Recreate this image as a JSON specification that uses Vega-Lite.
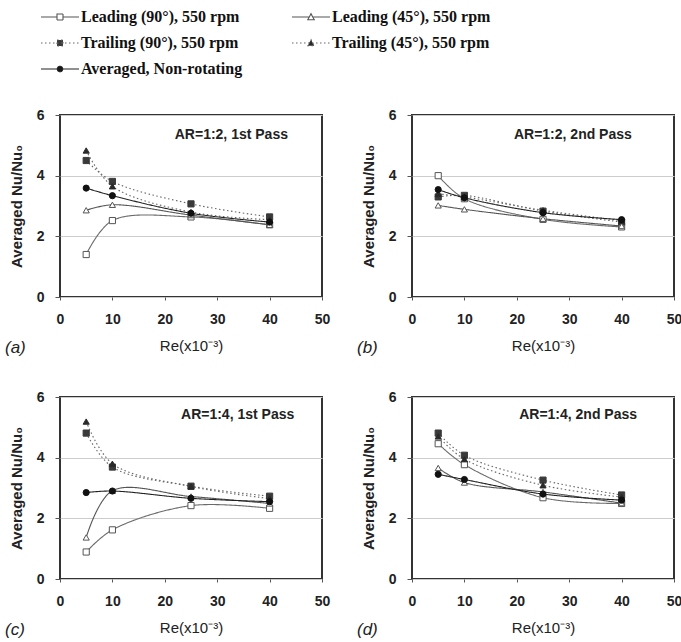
{
  "$schema": "https://vega.github.io/schema/vega-lite/v6.json",
  "padding": {"left": 4, "top": 5, "right": 2, "bottom": 2},
  "background": "white",
  "datasets": {
    "nu": [
      {"panel": "a", "series": "Leading (90°), 550 rpm", "re": 5, "nu": 1.40},
      {"panel": "a", "series": "Leading (90°), 550 rpm", "re": 10, "nu": 2.52},
      {"panel": "a", "series": "Leading (90°), 550 rpm", "re": 25, "nu": 2.64},
      {"panel": "a", "series": "Leading (90°), 550 rpm", "re": 40, "nu": 2.38},
      {"panel": "a", "series": "Trailing (90°), 550 rpm", "re": 5, "nu": 4.50},
      {"panel": "a", "series": "Trailing (90°), 550 rpm", "re": 10, "nu": 3.81},
      {"panel": "a", "series": "Trailing (90°), 550 rpm", "re": 25, "nu": 3.07},
      {"panel": "a", "series": "Trailing (90°), 550 rpm", "re": 40, "nu": 2.64},
      {"panel": "a", "series": "Leading (45°), 550 rpm", "re": 5, "nu": 2.86},
      {"panel": "a", "series": "Leading (45°), 550 rpm", "re": 10, "nu": 3.04},
      {"panel": "a", "series": "Leading (45°), 550 rpm", "re": 25, "nu": 2.70},
      {"panel": "a", "series": "Leading (45°), 550 rpm", "re": 40, "nu": 2.38},
      {"panel": "a", "series": "Trailing (45°), 550 rpm", "re": 5, "nu": 4.83},
      {"panel": "a", "series": "Trailing (45°), 550 rpm", "re": 10, "nu": 3.65},
      {"panel": "a", "series": "Trailing (45°), 550 rpm", "re": 25, "nu": 2.80},
      {"panel": "a", "series": "Trailing (45°), 550 rpm", "re": 40, "nu": 2.55},
      {"panel": "a", "series": "Averaged, Non-rotating", "re": 5, "nu": 3.59},
      {"panel": "a", "series": "Averaged, Non-rotating", "re": 10, "nu": 3.34},
      {"panel": "a", "series": "Averaged, Non-rotating", "re": 25, "nu": 2.76},
      {"panel": "a", "series": "Averaged, Non-rotating", "re": 40, "nu": 2.47},

      {"panel": "b", "series": "Leading (90°), 550 rpm", "re": 5, "nu": 4.00},
      {"panel": "b", "series": "Leading (90°), 550 rpm", "re": 10, "nu": 3.24},
      {"panel": "b", "series": "Leading (90°), 550 rpm", "re": 25, "nu": 2.56},
      {"panel": "b", "series": "Leading (90°), 550 rpm", "re": 40, "nu": 2.31},
      {"panel": "b", "series": "Trailing (90°), 550 rpm", "re": 5, "nu": 3.30},
      {"panel": "b", "series": "Trailing (90°), 550 rpm", "re": 10, "nu": 3.35},
      {"panel": "b", "series": "Trailing (90°), 550 rpm", "re": 25, "nu": 2.83},
      {"panel": "b", "series": "Trailing (90°), 550 rpm", "re": 40, "nu": 2.47},
      {"panel": "b", "series": "Leading (45°), 550 rpm", "re": 5, "nu": 3.02},
      {"panel": "b", "series": "Leading (45°), 550 rpm", "re": 10, "nu": 2.89},
      {"panel": "b", "series": "Leading (45°), 550 rpm", "re": 25, "nu": 2.58},
      {"panel": "b", "series": "Leading (45°), 550 rpm", "re": 40, "nu": 2.34},
      {"panel": "b", "series": "Trailing (45°), 550 rpm", "re": 5, "nu": 3.40},
      {"panel": "b", "series": "Trailing (45°), 550 rpm", "re": 10, "nu": 3.30},
      {"panel": "b", "series": "Trailing (45°), 550 rpm", "re": 25, "nu": 2.86},
      {"panel": "b", "series": "Trailing (45°), 550 rpm", "re": 40, "nu": 2.52},
      {"panel": "b", "series": "Averaged, Non-rotating", "re": 5, "nu": 3.54},
      {"panel": "b", "series": "Averaged, Non-rotating", "re": 10, "nu": 3.27},
      {"panel": "b", "series": "Averaged, Non-rotating", "re": 25, "nu": 2.78},
      {"panel": "b", "series": "Averaged, Non-rotating", "re": 40, "nu": 2.55},

      {"panel": "c", "series": "Leading (90°), 550 rpm", "re": 5, "nu": 0.89},
      {"panel": "c", "series": "Leading (90°), 550 rpm", "re": 10, "nu": 1.62},
      {"panel": "c", "series": "Leading (90°), 550 rpm", "re": 25, "nu": 2.42},
      {"panel": "c", "series": "Leading (90°), 550 rpm", "re": 40, "nu": 2.33},
      {"panel": "c", "series": "Trailing (90°), 550 rpm", "re": 5, "nu": 4.81},
      {"panel": "c", "series": "Trailing (90°), 550 rpm", "re": 10, "nu": 3.69},
      {"panel": "c", "series": "Trailing (90°), 550 rpm", "re": 25, "nu": 3.06},
      {"panel": "c", "series": "Trailing (90°), 550 rpm", "re": 40, "nu": 2.73},
      {"panel": "c", "series": "Leading (45°), 550 rpm", "re": 5, "nu": 1.37},
      {"panel": "c", "series": "Leading (45°), 550 rpm", "re": 10, "nu": 2.91},
      {"panel": "c", "series": "Leading (45°), 550 rpm", "re": 25, "nu": 2.72},
      {"panel": "c", "series": "Leading (45°), 550 rpm", "re": 40, "nu": 2.49},
      {"panel": "c", "series": "Trailing (45°), 550 rpm", "re": 5, "nu": 5.19},
      {"panel": "c", "series": "Trailing (45°), 550 rpm", "re": 10, "nu": 3.80},
      {"panel": "c", "series": "Trailing (45°), 550 rpm", "re": 25, "nu": 3.05},
      {"panel": "c", "series": "Trailing (45°), 550 rpm", "re": 40, "nu": 2.65},
      {"panel": "c", "series": "Averaged, Non-rotating", "re": 5, "nu": 2.85},
      {"panel": "c", "series": "Averaged, Non-rotating", "re": 10, "nu": 2.90},
      {"panel": "c", "series": "Averaged, Non-rotating", "re": 25, "nu": 2.66},
      {"panel": "c", "series": "Averaged, Non-rotating", "re": 40, "nu": 2.55},

      {"panel": "d", "series": "Leading (90°), 550 rpm", "re": 5, "nu": 4.46},
      {"panel": "d", "series": "Leading (90°), 550 rpm", "re": 10, "nu": 3.77},
      {"panel": "d", "series": "Leading (90°), 550 rpm", "re": 25, "nu": 2.68},
      {"panel": "d", "series": "Leading (90°), 550 rpm", "re": 40, "nu": 2.49},
      {"panel": "d", "series": "Trailing (90°), 550 rpm", "re": 5, "nu": 4.81},
      {"panel": "d", "series": "Trailing (90°), 550 rpm", "re": 10, "nu": 4.08},
      {"panel": "d", "series": "Trailing (90°), 550 rpm", "re": 25, "nu": 3.26},
      {"panel": "d", "series": "Trailing (90°), 550 rpm", "re": 40, "nu": 2.77},
      {"panel": "d", "series": "Leading (45°), 550 rpm", "re": 5, "nu": 3.66},
      {"panel": "d", "series": "Leading (45°), 550 rpm", "re": 10, "nu": 3.18},
      {"panel": "d", "series": "Leading (45°), 550 rpm", "re": 25, "nu": 2.87},
      {"panel": "d", "series": "Leading (45°), 550 rpm", "re": 40, "nu": 2.50},
      {"panel": "d", "series": "Trailing (45°), 550 rpm", "re": 5, "nu": 4.70},
      {"panel": "d", "series": "Trailing (45°), 550 rpm", "re": 10, "nu": 3.95},
      {"panel": "d", "series": "Trailing (45°), 550 rpm", "re": 25, "nu": 3.09},
      {"panel": "d", "series": "Trailing (45°), 550 rpm", "re": 40, "nu": 2.70},
      {"panel": "d", "series": "Averaged, Non-rotating", "re": 5, "nu": 3.45},
      {"panel": "d", "series": "Averaged, Non-rotating", "re": 10, "nu": 3.28},
      {"panel": "d", "series": "Averaged, Non-rotating", "re": 25, "nu": 2.80},
      {"panel": "d", "series": "Averaged, Non-rotating", "re": 40, "nu": 2.60}
    ],
    "notes": [
      {"panel": "a", "note": "AR=1:2, 1st Pass"},
      {"panel": "b", "note": "AR=1:2, 2nd Pass"},
      {"panel": "c", "note": "AR=1:4, 1st Pass"},
      {"panel": "d", "note": "AR=1:4, 2nd Pass"}
    ]
  },
  "config": {
    "font": "Liberation Sans",
    "view": {"stroke": "#333", "strokeWidth": 2},
    "axis": {
      "labelFont": "Liberation Sans", "labelFontWeight": "bold", "labelFontSize": 14, "labelColor": "#222",
      "titleFont": "Liberation Sans", "titleFontWeight": "bold", "titleFontSize": 15, "titleColor": "#222",
      "domain": false, "tickColor": "#555", "gridColor": "#cccccc", "gridWidth": 1
    },
    "axisX": {"grid": false, "tickSize": 3, "labelPadding": 12, "titlePadding": 12, "titleFontWeight": "normal", "labelFlush": false},
    "axisY": {"grid": true, "tickSize": 5, "labelPadding": 11, "titlePadding": 12, "labelFlush": false},
    "title": {"font": "Liberation Sans", "fontStyle": "italic", "fontWeight": "normal", "fontSize": 17, "color": "#222", "orient": "bottom", "anchor": "start", "frame": "group", "offset": -13, "dx": -55}
  },
  "resolve": {
    "scale": {"shape": "independent", "fill": "independent", "stroke": "independent", "strokeDash": "independent", "color": "independent"},
    "legend": {"shape": "independent", "fill": "independent", "stroke": "independent", "strokeDash": "independent", "color": "independent"}
  },
  "spacing": 30,
  "vconcat": [
    {
      "width": 640, "height": 72,
      "view": {"stroke": null},
      "data": {"name": "nu"},
      "transform": [{"filter": "datum.re < 0"}],
      "mark": {"type": "point", "filled": true, "size": 100, "strokeWidth": 1.2, "opacity": 1},
      "encoding": {
        "shape": {"field": "series", "type": "nominal",
          "scale": {"domain": ["Leading (90°), 550 rpm", "Trailing (90°), 550 rpm", "Averaged, Non-rotating", "Leading (45°), 550 rpm", "Trailing (45°), 550 rpm"],
            "range": [
              "M-1,0H2.2M3.4,0H6.6M2.2,-0.6H3.4V0.6H2.2Z",
              "M-1,0H6.6M2.2,-0.6H3.4V0.6H2.2Z",
              "M-1,0H6.6M3.35,0A0.55,0.55 0 1,1 2.25,0A0.55,0.55 0 1,1 3.35,0Z",
              "M-1,0H2.45M3.15,0H6.6M2.8,-0.65L3.45,0.55H2.15Z",
              "M-1,0H6.6M2.8,-0.65L3.45,0.55H2.15Z"
            ]},
          "legend": {
            "title": null, "orient": "none", "legendX": -22, "legendY": 4, "columns": 2, "columnPadding": 46, "rowPadding": 10,
            "symbolSize": 100, "symbolStrokeWidth": 1.1, "labelOffset": 27, "labelLimit": 400,
            "labelFont": "Liberation Serif", "labelFontWeight": "bold", "labelFontSize": 16, "labelColor": "#111", "padding": 0
          }},
        "fill": {"field": "series", "type": "nominal",
          "scale": {"domain": ["Leading (90°), 550 rpm", "Trailing (90°), 550 rpm", "Averaged, Non-rotating", "Leading (45°), 550 rpm", "Trailing (45°), 550 rpm"],
            "range": ["#ffffff", "#3a3a3a", "#111111", "#ffffff", "#2a2a2a"]}},
        "stroke": {"field": "series", "type": "nominal",
          "scale": {"domain": ["Leading (90°), 550 rpm", "Trailing (90°), 550 rpm", "Averaged, Non-rotating", "Leading (45°), 550 rpm", "Trailing (45°), 550 rpm"],
            "range": ["#555555", "#666666", "#222222", "#555555", "#666666"]}},
        "strokeDash": {"field": "series", "type": "nominal",
          "scale": {"domain": ["Leading (90°), 550 rpm", "Trailing (90°), 550 rpm", "Averaged, Non-rotating", "Leading (45°), 550 rpm", "Trailing (45°), 550 rpm"],
            "range": [[1, 0], [1.5, 2.5], [1, 0], [1, 0], [1.5, 2.5]]}}
      }
    },
    {
      "spacing": 32,
      "vconcat": [
        {
          "spacing": 25,
          "hconcat": [
            {
              "width": 262, "height": 182,
              "title": {"text": "(a)"},
              "layer": [
                {"data": {"name": "nu"}, "transform": [{"filter": "datum.panel === 'a'"}],
                  "mark": {"type": "line", "interpolate": "catmull-rom", "strokeWidth": 1.1},
                  "encoding": {
                    "x": {"field": "re", "type": "quantitative", "scale": {"domain": [0, 50]}, "axis": {"values": [0, 10, 20, 30, 40, 50]}, "title": "Re(x10⁻³)"},
                    "y": {"field": "nu", "type": "quantitative", "scale": {"domain": [0, 6]}, "axis": {"values": [0, 2, 4, 6]}, "title": "Averaged Nu/Nu₀"},
                    "detail": {"field": "series"},
                    "color": {"field": "series", "type": "nominal", "legend": null, "scale": {"domain": ["Leading (90°), 550 rpm", "Leading (45°), 550 rpm", "Trailing (90°), 550 rpm", "Trailing (45°), 550 rpm", "Averaged, Non-rotating"], "range": ["#6a6a6a", "#555555", "#666666", "#666666", "#222222"]}},
                    "strokeDash": {"field": "series", "type": "nominal", "legend": null, "scale": {"domain": ["Leading (90°), 550 rpm", "Leading (45°), 550 rpm", "Trailing (90°), 550 rpm", "Trailing (45°), 550 rpm", "Averaged, Non-rotating"], "range": [[1, 0], [1, 0], [1.5, 2.5], [1.5, 2.5], [1, 0]]}}
                  }},
                {"data": {"name": "nu"}, "transform": [{"filter": "datum.panel === 'a'"}],
                  "mark": {"type": "point", "filled": true, "size": 38, "strokeWidth": 1, "opacity": 1},
                  "encoding": {
                    "x": {"field": "re", "type": "quantitative"},
                    "y": {"field": "nu", "type": "quantitative"},
                    "shape": {"field": "series", "type": "nominal", "legend": null, "scale": {"domain": ["Leading (90°), 550 rpm", "Leading (45°), 550 rpm", "Trailing (90°), 550 rpm", "Trailing (45°), 550 rpm", "Averaged, Non-rotating"], "range": ["square", "triangle-up", "square", "triangle-up", "circle"]}},
                    "fill": {"field": "series", "type": "nominal", "legend": null, "scale": {"domain": ["Leading (90°), 550 rpm", "Leading (45°), 550 rpm", "Trailing (90°), 550 rpm", "Trailing (45°), 550 rpm", "Averaged, Non-rotating"], "range": ["#ffffff", "#ffffff", "#3a3a3a", "#2a2a2a", "#111111"]}},
                    "stroke": {"field": "series", "type": "nominal", "legend": null, "scale": {"domain": ["Leading (90°), 550 rpm", "Leading (45°), 550 rpm", "Trailing (90°), 550 rpm", "Trailing (45°), 550 rpm", "Averaged, Non-rotating"], "range": ["#555555", "#555555", "#3a3a3a", "#2a2a2a", "#111111"]}}
                  }},
                {"data": {"name": "notes"}, "transform": [{"filter": "datum.panel === 'a'"}],
                  "mark": {"type": "text", "align": "center", "baseline": "middle", "font": "Liberation Sans", "fontWeight": "bold", "fontSize": 14, "fill": "#222222"},
                  "encoding": {"x": {"datum": 32.7, "type": "quantitative"}, "y": {"datum": 5.35, "type": "quantitative"}, "text": {"field": "note", "type": "nominal"}}}
              ]
            },
            {
              "width": 262, "height": 182,
              "title": {"text": "(b)"},
              "layer": [
                {"data": {"name": "nu"}, "transform": [{"filter": "datum.panel === 'b'"}],
                  "mark": {"type": "line", "interpolate": "catmull-rom", "strokeWidth": 1.1},
                  "encoding": {
                    "x": {"field": "re", "type": "quantitative", "scale": {"domain": [0, 50]}, "axis": {"values": [0, 10, 20, 30, 40, 50]}, "title": "Re(x10⁻³)"},
                    "y": {"field": "nu", "type": "quantitative", "scale": {"domain": [0, 6]}, "axis": {"values": [0, 2, 4, 6]}, "title": "Averaged Nu/Nu₀"},
                    "detail": {"field": "series"},
                    "color": {"field": "series", "type": "nominal", "legend": null, "scale": {"domain": ["Leading (90°), 550 rpm", "Leading (45°), 550 rpm", "Trailing (90°), 550 rpm", "Trailing (45°), 550 rpm", "Averaged, Non-rotating"], "range": ["#6a6a6a", "#555555", "#666666", "#666666", "#222222"]}},
                    "strokeDash": {"field": "series", "type": "nominal", "legend": null, "scale": {"domain": ["Leading (90°), 550 rpm", "Leading (45°), 550 rpm", "Trailing (90°), 550 rpm", "Trailing (45°), 550 rpm", "Averaged, Non-rotating"], "range": [[1, 0], [1, 0], [1.5, 2.5], [1.5, 2.5], [1, 0]]}}
                  }},
                {"data": {"name": "nu"}, "transform": [{"filter": "datum.panel === 'b'"}],
                  "mark": {"type": "point", "filled": true, "size": 38, "strokeWidth": 1, "opacity": 1},
                  "encoding": {
                    "x": {"field": "re", "type": "quantitative"},
                    "y": {"field": "nu", "type": "quantitative"},
                    "shape": {"field": "series", "type": "nominal", "legend": null, "scale": {"domain": ["Leading (90°), 550 rpm", "Leading (45°), 550 rpm", "Trailing (90°), 550 rpm", "Trailing (45°), 550 rpm", "Averaged, Non-rotating"], "range": ["square", "triangle-up", "square", "triangle-up", "circle"]}},
                    "fill": {"field": "series", "type": "nominal", "legend": null, "scale": {"domain": ["Leading (90°), 550 rpm", "Leading (45°), 550 rpm", "Trailing (90°), 550 rpm", "Trailing (45°), 550 rpm", "Averaged, Non-rotating"], "range": ["#ffffff", "#ffffff", "#3a3a3a", "#2a2a2a", "#111111"]}},
                    "stroke": {"field": "series", "type": "nominal", "legend": null, "scale": {"domain": ["Leading (90°), 550 rpm", "Leading (45°), 550 rpm", "Trailing (90°), 550 rpm", "Trailing (45°), 550 rpm", "Averaged, Non-rotating"], "range": ["#555555", "#555555", "#3a3a3a", "#2a2a2a", "#111111"]}}
                  }},
                {"data": {"name": "notes"}, "transform": [{"filter": "datum.panel === 'b'"}],
                  "mark": {"type": "text", "align": "center", "baseline": "middle", "font": "Liberation Sans", "fontWeight": "bold", "fontSize": 14, "fill": "#222222"},
                  "encoding": {"x": {"datum": 30.7, "type": "quantitative"}, "y": {"datum": 5.35, "type": "quantitative"}, "text": {"field": "note", "type": "nominal"}}}
              ]
            }
          ]
        },
        {
          "spacing": 25,
          "hconcat": [
            {
              "width": 262, "height": 182,
              "title": {"text": "(c)"},
              "layer": [
                {"data": {"name": "nu"}, "transform": [{"filter": "datum.panel === 'c'"}],
                  "mark": {"type": "line", "interpolate": "catmull-rom", "strokeWidth": 1.1},
                  "encoding": {
                    "x": {"field": "re", "type": "quantitative", "scale": {"domain": [0, 50]}, "axis": {"values": [0, 10, 20, 30, 40, 50]}, "title": "Re(x10⁻³)"},
                    "y": {"field": "nu", "type": "quantitative", "scale": {"domain": [0, 6]}, "axis": {"values": [0, 2, 4, 6]}, "title": "Averaged Nu/Nu₀"},
                    "detail": {"field": "series"},
                    "color": {"field": "series", "type": "nominal", "legend": null, "scale": {"domain": ["Leading (90°), 550 rpm", "Leading (45°), 550 rpm", "Trailing (90°), 550 rpm", "Trailing (45°), 550 rpm", "Averaged, Non-rotating"], "range": ["#6a6a6a", "#555555", "#666666", "#666666", "#222222"]}},
                    "strokeDash": {"field": "series", "type": "nominal", "legend": null, "scale": {"domain": ["Leading (90°), 550 rpm", "Leading (45°), 550 rpm", "Trailing (90°), 550 rpm", "Trailing (45°), 550 rpm", "Averaged, Non-rotating"], "range": [[1, 0], [1, 0], [1.5, 2.5], [1.5, 2.5], [1, 0]]}}
                  }},
                {"data": {"name": "nu"}, "transform": [{"filter": "datum.panel === 'c'"}],
                  "mark": {"type": "point", "filled": true, "size": 38, "strokeWidth": 1, "opacity": 1},
                  "encoding": {
                    "x": {"field": "re", "type": "quantitative"},
                    "y": {"field": "nu", "type": "quantitative"},
                    "shape": {"field": "series", "type": "nominal", "legend": null, "scale": {"domain": ["Leading (90°), 550 rpm", "Leading (45°), 550 rpm", "Trailing (90°), 550 rpm", "Trailing (45°), 550 rpm", "Averaged, Non-rotating"], "range": ["square", "triangle-up", "square", "triangle-up", "circle"]}},
                    "fill": {"field": "series", "type": "nominal", "legend": null, "scale": {"domain": ["Leading (90°), 550 rpm", "Leading (45°), 550 rpm", "Trailing (90°), 550 rpm", "Trailing (45°), 550 rpm", "Averaged, Non-rotating"], "range": ["#ffffff", "#ffffff", "#3a3a3a", "#2a2a2a", "#111111"]}},
                    "stroke": {"field": "series", "type": "nominal", "legend": null, "scale": {"domain": ["Leading (90°), 550 rpm", "Leading (45°), 550 rpm", "Trailing (90°), 550 rpm", "Trailing (45°), 550 rpm", "Averaged, Non-rotating"], "range": ["#555555", "#555555", "#3a3a3a", "#2a2a2a", "#111111"]}}
                  }},
                {"data": {"name": "notes"}, "transform": [{"filter": "datum.panel === 'c'"}],
                  "mark": {"type": "text", "align": "center", "baseline": "middle", "font": "Liberation Sans", "fontWeight": "bold", "fontSize": 14, "fill": "#222222"},
                  "encoding": {"x": {"datum": 33.9, "type": "quantitative"}, "y": {"datum": 5.4, "type": "quantitative"}, "text": {"field": "note", "type": "nominal"}}}
              ]
            },
            {
              "width": 262, "height": 182,
              "title": {"text": "(d)"},
              "layer": [
                {"data": {"name": "nu"}, "transform": [{"filter": "datum.panel === 'd'"}],
                  "mark": {"type": "line", "interpolate": "catmull-rom", "strokeWidth": 1.1},
                  "encoding": {
                    "x": {"field": "re", "type": "quantitative", "scale": {"domain": [0, 50]}, "axis": {"values": [0, 10, 20, 30, 40, 50]}, "title": "Re(x10⁻³)"},
                    "y": {"field": "nu", "type": "quantitative", "scale": {"domain": [0, 6]}, "axis": {"values": [0, 2, 4, 6]}, "title": "Averaged Nu/Nu₀"},
                    "detail": {"field": "series"},
                    "color": {"field": "series", "type": "nominal", "legend": null, "scale": {"domain": ["Leading (90°), 550 rpm", "Leading (45°), 550 rpm", "Trailing (90°), 550 rpm", "Trailing (45°), 550 rpm", "Averaged, Non-rotating"], "range": ["#6a6a6a", "#555555", "#666666", "#666666", "#222222"]}},
                    "strokeDash": {"field": "series", "type": "nominal", "legend": null, "scale": {"domain": ["Leading (90°), 550 rpm", "Leading (45°), 550 rpm", "Trailing (90°), 550 rpm", "Trailing (45°), 550 rpm", "Averaged, Non-rotating"], "range": [[1, 0], [1, 0], [1.5, 2.5], [1.5, 2.5], [1, 0]]}}
                  }},
                {"data": {"name": "nu"}, "transform": [{"filter": "datum.panel === 'd'"}],
                  "mark": {"type": "point", "filled": true, "size": 38, "strokeWidth": 1, "opacity": 1},
                  "encoding": {
                    "x": {"field": "re", "type": "quantitative"},
                    "y": {"field": "nu", "type": "quantitative"},
                    "shape": {"field": "series", "type": "nominal", "legend": null, "scale": {"domain": ["Leading (90°), 550 rpm", "Leading (45°), 550 rpm", "Trailing (90°), 550 rpm", "Trailing (45°), 550 rpm", "Averaged, Non-rotating"], "range": ["square", "triangle-up", "square", "triangle-up", "circle"]}},
                    "fill": {"field": "series", "type": "nominal", "legend": null, "scale": {"domain": ["Leading (90°), 550 rpm", "Leading (45°), 550 rpm", "Trailing (90°), 550 rpm", "Trailing (45°), 550 rpm", "Averaged, Non-rotating"], "range": ["#ffffff", "#ffffff", "#3a3a3a", "#2a2a2a", "#111111"]}},
                    "stroke": {"field": "series", "type": "nominal", "legend": null, "scale": {"domain": ["Leading (90°), 550 rpm", "Leading (45°), 550 rpm", "Trailing (90°), 550 rpm", "Trailing (45°), 550 rpm", "Averaged, Non-rotating"], "range": ["#555555", "#555555", "#3a3a3a", "#2a2a2a", "#111111"]}}
                  }},
                {"data": {"name": "notes"}, "transform": [{"filter": "datum.panel === 'd'"}],
                  "mark": {"type": "text", "align": "center", "baseline": "middle", "font": "Liberation Sans", "fontWeight": "bold", "fontSize": 14, "fill": "#222222"},
                  "encoding": {"x": {"datum": 31.7, "type": "quantitative"}, "y": {"datum": 5.4, "type": "quantitative"}, "text": {"field": "note", "type": "nominal"}}}
              ]
            }
          ]
        }
      ]
    }
  ]
}
